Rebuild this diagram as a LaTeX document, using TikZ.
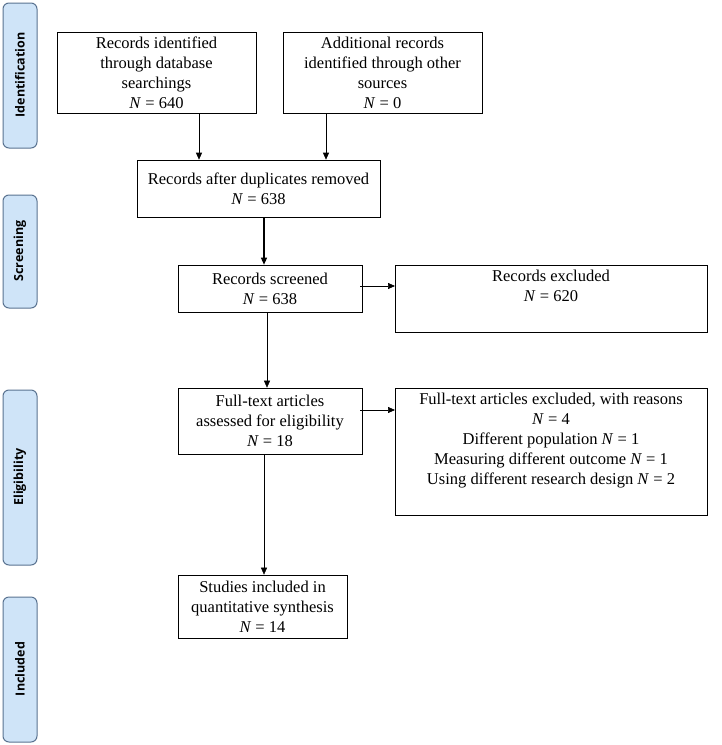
\documentclass[tikz,border=0pt]{standalone}
\usepackage{fontspec}
\setmainfont{Liberation Serif}
\newfontfamily\bandfont{Open Sans}
\usetikzlibrary{arrows.meta}
\definecolor{bandfill}{HTML}{CFE4F8}
\definecolor{bandline}{HTML}{5A7391}
\newcommand{\nn}[1]{\textit{N} = #1}
\begin{document}
\begin{tikzpicture}[x=1pt,y=-1pt,
  box/.style={draw,line width=0.6pt,align=center,font=\fontsize{16.5}{20}\selectfont,inner sep=0pt},
  band/.style={draw=bandline,fill=bandfill,rounded corners=6pt,line width=1pt},
  bandtxt/.style={rotate=90,font=\bandfont\bfseries\fontsize{12.5}{14}\selectfont},
  arr/.style={-{Triangle[length=7pt,width=6pt]},line width=0.7pt}]
\useasboundingbox (0,0) rectangle (722,745);
\fill[white] (0,0) rectangle (722,745);
\draw[band] (3,3) rectangle (37,148);
\node[bandtxt] (l1) at (20,75) {Identification};
\draw[band] (3,195) rectangle (37,308);
\node[bandtxt] (l2) at (20,251) {Screening};
\draw[band] (3,390) rectangle (37,565);
\node[bandtxt] (l3) at (20,477) {Eligibility};
\draw[band] (3,597) rectangle (37,742);
\node[bandtxt] (l4) at (20,669) {Included};

\node[box,minimum width=199pt,minimum height=81pt] (a) at (156.5,72.5) {Records identified\\through database\\searchings\\\nn{640}};
\node[box,minimum width=199pt,minimum height=81pt] (b) at (382.5,72.5) {Additional records\\identified through other\\sources\\\nn{0}};
\node[box,minimum width=243pt,minimum height=57pt] (c) at (258.5,188.5) {Records after duplicates removed\\\nn{638}};
\node[box,minimum width=184pt,minimum height=47pt] (d) at (270,288.5) {Records screened\\\nn{638}};
\node[box,minimum width=312pt,minimum height=67pt,anchor=north west] (e) at (395,265) {};
\node[anchor=north,align=center,font=\fontsize{16.5}{20}\selectfont,inner sep=0pt] (et) at (551,270) {Records excluded\\\nn{620}};
\node[box,minimum width=184pt,minimum height=66pt] (f) at (270,421) {Full-text articles\\assessed for eligibility\\\nn{18}};
\node[box,minimum width=312pt,minimum height=127pt,anchor=north west] (g) at (395,388) {};
\node[anchor=north,align=center,font=\fontsize{16.5}{20}\selectfont,inner sep=0pt] (gt) at (551,393) {Full-text articles excluded, with reasons\\\nn{4}\\Different population \nn{1}\\Measuring different outcome \nn{1}\\Using different research design \nn{2}};
\node[box,minimum width=169pt,minimum height=63pt] (h) at (262.5,606.5) {Studies included in\\quantitative synthesis\\\nn{14}};

\draw[arr] (a.south -| 199,0) -- (c.north -| 199,0);
\draw[arr] (b.south -| 326,0) -- (c.north -| 326,0);
\draw[arr,line width=1.3pt] (c.south -| 264,0) -- (d.north -| 264,0);
\draw[arr] (360,286) -- (e.west |- 0,286);
\draw[arr,line width=0.5pt] (d.south -| 267,0) -- (f.north -| 267,0);
\draw[arr] (360,410) -- (g.west |- 0,410);
\draw[arr,line width=0.5pt] (f.south -| 264,0) -- (h.north -| 264,0);
\end{tikzpicture}
\end{document}
